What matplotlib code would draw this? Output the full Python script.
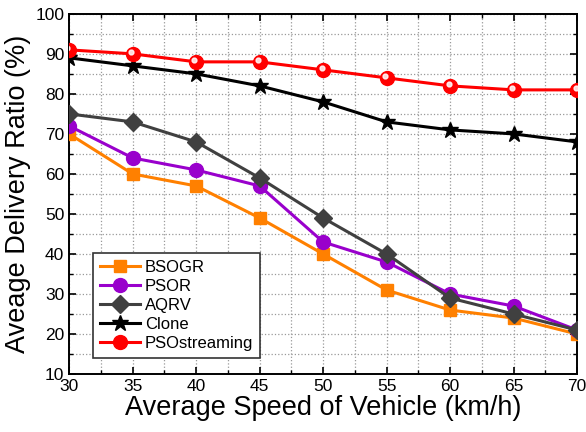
import matplotlib
matplotlib.use("Agg")
import matplotlib.pyplot as plt
import matplotlib.transforms as mtransforms
from matplotlib.ticker import MultipleLocator

plt.rcParams["font.family"] = ["Liberation Sans", "DejaVu Sans"]

speed = [30, 35, 40, 45, 50, 55, 60, 65, 70]
bsogr = [70, 60, 57, 49, 40, 31, 26, 24, 20]
psor = [72, 64, 61, 57, 43, 38, 30, 27, 21]
aqrv = [75, 73, 68, 59, 49, 40, 29, 25, 21]
clone = [89, 87, 85, 82, 78, 73, 71, 70, 68]
psostreaming = [91, 90, 88, 88, 86, 84, 82, 81, 81]

series = [
    ("BSOGR", bsogr, "#FF8000", "s", 9),
    ("PSOR", psor, "#9900CC", "o", 10),
    ("AQRV", aqrv, "#404040", "D", 9),
    ("Clone", clone, "#000000", "*", 12),
    ("PSOstreaming", psostreaming, "#FF0000", "o", 10),
]

fig = plt.figure(figsize=(5.86, 4.32), dpi=100)
ax = fig.add_axes([0.118, 0.134, 0.867, 0.834])

for name, vals, color, marker, ms in series:
    ax.plot(speed, vals, color=color, marker=marker, markersize=ms,
            linewidth=2.2, label=name, zorder=3)

# glossy highlight on the red circles
shine = mtransforms.offset_copy(ax.transData, fig=fig, x=-1.2, y=1.2, units="points")
ax.plot(speed, psostreaming, linestyle="none", marker="o", markersize=3.5,
        color="white", alpha=0.85, transform=shine, zorder=4)

ax.set_xlim(30, 70)
ax.set_ylim(10, 100)
ax.xaxis.set_major_locator(MultipleLocator(5))
ax.xaxis.set_minor_locator(MultipleLocator(2.5))
ax.yaxis.set_major_locator(MultipleLocator(10))
ax.yaxis.set_minor_locator(MultipleLocator(5))

ax.grid(True, which="both", color="#999999", linestyle=":", linewidth=0.9)
ax.set_axisbelow(True)

ax.tick_params(which="both", direction="in", top=True, right=True, labelsize=12.5)
ax.tick_params(which="major", length=5, width=1.2)
ax.tick_params(which="minor", length=3, width=1.0)
for sp in ax.spines.values():
    sp.set_linewidth(1.4)

ax.set_xlabel("Average Speed of Vehicle (km/h)", fontsize=19.5, labelpad=1)
ax.set_ylabel("Aveage Delivery Ratio (%)", fontsize=19.5, labelpad=3)

leg = ax.legend(loc="lower left", bbox_to_anchor=(0.047, 0.045), fontsize=12,
                fancybox=False, edgecolor="#333333", framealpha=1,
                handlelength=2.4, handletextpad=0.3, labelspacing=0.25,
                borderpad=0.4, borderaxespad=0)
leg.get_frame().set_linewidth(1.2)

fig.savefig("out.png", dpi=100)
